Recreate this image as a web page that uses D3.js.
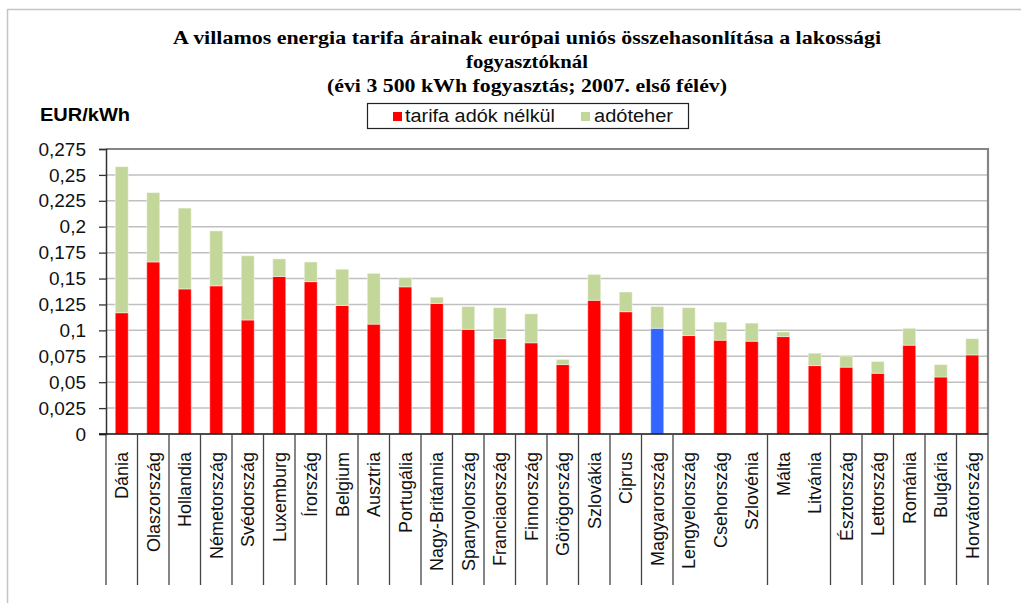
<html>
<head>
<script src="https://d3js.org/d3.v7.min.js"></script>
<style>
  body { margin: 0; background: #fff; }
  text { font-family: Arial, "Liberation Sans", sans-serif; }
</style>
</head>
<body>
<svg id="chart" width="1021" height="603"></svg>
<script>
// data (EUR/kWh, 2007 first half)
var countries = ["Dánia", "Olaszország", "Hollandia", "Németország", "Svédország", "Luxemburg",
    "Írország", "Belgium", "Ausztria", "Portugália", "Nagy-Británnia", "Spanyolország",
    "Franciaország", "Finnország", "Görögország", "Szlovákia", "Ciprus", "Magyarország",
    "Lengyelország", "Csehország", "Szlovénia", "Málta", "Litvánia", "Észtország",
    "Lettország", "Románia", "Bulgária", "Horvátország"];
var tarifa = [0.117, 0.166, 0.140, 0.143, 0.110, 0.152, 0.147, 0.124, 0.106, 0.142,
    0.126, 0.101, 0.092, 0.088, 0.067, 0.129, 0.118, 0.102, 0.095, 0.0905,
    0.0895, 0.094, 0.066, 0.0645, 0.0586, 0.0857, 0.055, 0.0763];
var osszesen = [0.258, 0.233, 0.218, 0.196, 0.172, 0.169, 0.166, 0.159, 0.155, 0.151,
    0.132, 0.123, 0.122, 0.116, 0.072, 0.154, 0.137, 0.123, 0.122, 0.108,
    0.107, 0.0985, 0.078, 0.0753, 0.070, 0.102, 0.067, 0.092];
var adoteher = osszesen.map(function(t, i) { return t - tarifa[i]; });
var kiemelt = "Magyarország";
var seriesNames = ["tarifa adók nélkül", "adóteher"];
var yTicks = [0, 0.025, 0.05, 0.075, 0.1, 0.125, 0.15, 0.175, 0.2, 0.225, 0.25, 0.275];
var yTickLabels = ["0", "0,025", "0,05", "0,075", "0,1", "0,125", "0,15", "0,175", "0,2", "0,225", "0,25", "0,275"];
var titleLines = ["A villamos energia tarifa árainak európai uniós összehasonlítása a lakossági",
    "fogyasztóknál", "(évi 3 500 kWh fogyasztás; 2007. első félév)"];
// separators the original leaves out (index of category to the right)
var noSeparator = [19, 20, 22];

var svg = d3.select("#chart");
var pLeft = 106, pRight = 988, pTop = 149, pBottom = 434;

// outer frame
svg.append("path")
    .attr("d", "M7.5,700 V9.5 H1030")
    .attr("fill", "none").attr("stroke", "#c4c4c4").attr("stroke-width", 1.5);

// title
var titleG = svg.append("g").attr("font-weight", "bold").attr("font-size", 19).attr("text-anchor", "middle");
var lens = [708, 122, 400];
titleLines.forEach(function(t, i) {
    titleG.append("text")
        .attr("x", 527).attr("y", 44 + i * 24)
        .style("font-family", "'Liberation Serif', 'Times New Roman', serif")
        .attr("textLength", lens[i]).attr("lengthAdjust", "spacingAndGlyphs")
        .text(t);
});

svg.append("text").attr("x", 40).attr("y", 121)
    .attr("font-weight", "bold").attr("font-size", 18)
    .attr("textLength", 90).attr("lengthAdjust", "spacingAndGlyphs")
    .text("EUR/kWh");

// scales
var x = d3.scaleBand().domain(countries).range([pLeft, pRight])
    .paddingInner(0.587).paddingOuter(0.2935);
var y = d3.scaleLinear().domain([0, 0.275]).range([pBottom, pTop]);

// gridlines
svg.append("g").selectAll("line").data(yTicks.filter(function(d) { return d > 0 && d < 0.275; }))
    .join("line")
    .attr("x1", pLeft).attr("x2", pRight)
    .attr("y1", function(d) { return y(d); }).attr("y2", function(d) { return y(d); })
    .attr("stroke", "#c0c0c0").attr("stroke-width", 1.5);

// plot border top/right
svg.append("path")
    .attr("d", "M" + pLeft + "," + pTop + " H" + pRight + " V" + pBottom)
    .attr("fill", "none").attr("stroke", "#858585").attr("stroke-width", 2.2);

// stacked bars
var rows = countries.map(function(c, i) { return { c: c, tarifa: tarifa[i], ado: adoteher[i] }; });
var stack = d3.stack().keys(["tarifa", "ado"])(rows);
var colors = { tarifa: "#ff0000", ado: "#c4d79b" };

svg.append("g").selectAll("g").data(stack).join("g")
    .selectAll("rect").data(function(s) { return s.map(function(d) { d.key = s.key; return d; }); })
    .join("rect")
    .attr("x", function(d) { return x(d.data.c); })
    .attr("width", x.bandwidth())
    .attr("y", function(d) { return y(d[1]); })
    .attr("height", function(d) { return y(d[0]) - y(d[1]); })
    .attr("fill", function(d) {
        if (d.key == "tarifa" && d.data.c == kiemelt) return "#3366ff";
        return colors[d.key];
    })
    .attr("stroke", "rgba(255,255,255,0.45)").attr("stroke-width", 1);

// y axis
var yAxis = d3.axisLeft(y).tickValues(yTicks)
    .tickFormat(function(d, i) { return yTickLabels[i]; })
    .tickSize(7).tickPadding(13);
var ya = svg.append("g").attr("transform", "translate(" + pLeft + ",0)").call(yAxis);
ya.select(".domain").attr("stroke", "#333").attr("stroke-width", 1.5);
ya.selectAll(".tick line").attr("stroke", "#333").attr("stroke-width", 1.3);
ya.selectAll("text").attr("font-size", 19).attr("fill", "#111")
    .style("font-family", "Arial, 'Liberation Sans', sans-serif");

// x axis baseline
svg.append("line").attr("x1", pLeft - 7).attr("x2", pRight)
    .attr("y1", pBottom).attr("y2", pBottom)
    .attr("stroke", "#111").attr("stroke-width", 1.6);

// category separators below axis
var step = x.step();
var seps = d3.range(countries.length + 1).filter(function(k) { return noSeparator.indexOf(k) < 0; });
svg.append("g").selectAll("line").data(seps).join("line")
    .attr("x1", function(k) { return pLeft + k * step; })
    .attr("x2", function(k) { return pLeft + k * step; })
    .attr("y1", pBottom).attr("y2", 585)
    .attr("stroke", "#444").attr("stroke-width", 1.3);

// category labels
svg.append("g").selectAll("text").data(countries).join("text")
    .attr("transform", function(c) {
        return "translate(" + (x(c) + x.bandwidth() / 2 + 6.5) + ",452) rotate(-90)";
    })
    .attr("text-anchor", "end").attr("font-size", 18).attr("fill", "#111")
    .text(function(c) { return c; });

// legend
var lg = svg.append("g");
lg.append("rect").attr("x", 367.5).attr("y", 103.5).attr("width", 321).attr("height", 25)
    .attr("fill", "#fff").attr("stroke", "#222").attr("stroke-width", 1.2);
var legItems = [
    { name: seriesNames[0], color: colors.tarifa, sx: 393, tx: 405, len: 150 },
    { name: seriesNames[1], color: colors.ado, sx: 581, tx: 594, len: 79 }
];
legItems.forEach(function(d) {
    lg.append("rect").attr("x", d.sx).attr("y", 112).attr("width", 9).attr("height", 9).attr("fill", d.color);
    lg.append("text").attr("x", d.tx).attr("y", 122).attr("font-size", 18)
        .attr("textLength", d.len).attr("lengthAdjust", "spacingAndGlyphs")
        .attr("fill", "#111").text(d.name);
});
</script>
</body>
</html>
